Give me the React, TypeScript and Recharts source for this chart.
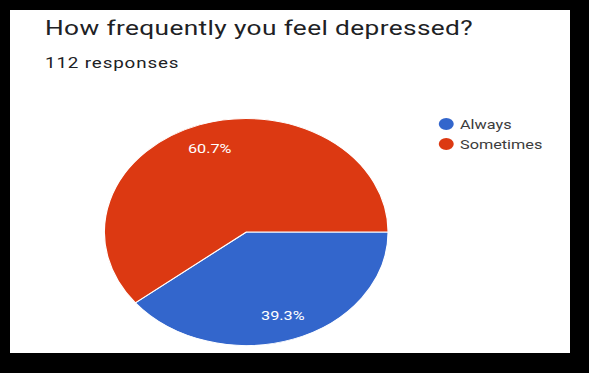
import { PieChart, Pie, Cell, Legend } from 'recharts';

const categories = ['Always', 'Sometimes'];
const responses = [44, 68];
const sliceColors = ['#3366cc', '#dc3912'];

const chartData = categories.map((name, i) => ({ name, value: responses[i] }));

const RADIAN = Math.PI / 180;

// percentage label placed inside each slice
// eslint-disable-next-line @typescript-eslint/no-explicit-any
function SliceLabel(props: any) {
  const { cx, cy, midAngle, outerRadius, percent } = props;
  const r = outerRadius * 0.78;
  const x = cx + r * Math.cos(-midAngle * RADIAN);
  const y = cy + r * Math.sin(-midAngle * RADIAN);
  return (
    <text
      x={x}
      y={y}
      fill="#ffffff"
      textAnchor="middle"
      dominantBaseline="central"
      fontSize={13}
      fontFamily="Roboto, Arial, sans-serif"
    >
      {(percent * 100).toFixed(1)}%
    </text>
  );
}

function LegendList() {
  return (
    <div style={{ fontFamily: 'Roboto, Arial, sans-serif', fontSize: 13, color: '#3c3c3c' }}>
      {categories.map((c, i) => (
        <div key={c} style={{ display: 'flex', alignItems: 'center', height: 20 }}>
          <span
            style={{
              width: 12,
              height: 12,
              borderRadius: '50%',
              background: sliceColors[i],
              marginRight: 5,
              display: 'inline-block',
            }}
          />
          <span>{c}</span>
        </div>
      ))}
    </div>
  );
}

export default function App() {
  return (
    <div style={{ position: 'absolute', left: 0, top: 0, width: 589, height: 373, background: '#000' }}>
      <div style={{ position: 'absolute', left: 10, top: 10, width: 560, height: 343, background: '#fff', overflow: 'hidden' }}>
        {/* screenshot is stretched horizontally, so draw narrow and widen */}
        <div style={{ position: 'relative', width: 448, height: 343, transform: 'scaleX(1.25)', transformOrigin: 'top left' }}>
          <div
            style={{
              position: 'absolute',
              left: 28,
              top: 8,
              fontFamily: 'Roboto, Arial, sans-serif',
              fontSize: 21,
              lineHeight: '21px',
              letterSpacing: 0.3,
              color: '#202124',
              whiteSpace: 'nowrap',
            }}
          >
            How frequently you feel depressed?
          </div>
          <div
            style={{
              position: 'absolute',
              left: 28,
              top: 46,
              fontFamily: 'Roboto, Arial, sans-serif',
              fontSize: 15,
              lineHeight: '15px',
              letterSpacing: 0.7,
              color: '#202124',
              whiteSpace: 'nowrap',
            }}
          >
            112 responses
          </div>
          <PieChart width={448} height={343} margin={{ top: 0, right: 0, bottom: 0, left: 0 }} style={{ position: 'absolute', left: 0, top: 0 }}>
            <Pie
              data={chartData}
              dataKey="value"
              nameKey="name"
              cx={189}
              cy={222}
              outerRadius={113.5}
              startAngle={0}
              endAngle={-360}
              stroke="#ffffff"
              strokeWidth={1}
              label={SliceLabel}
              labelLine={false}
              isAnimationActive={false}
            >
              {chartData.map((d, i) => (
                <Cell key={d.name} fill={sliceColors[i]} />
              ))}
            </Pie>
            <Legend
              layout="vertical"
              align="right"
              verticalAlign="top"
              content={() => <LegendList />}
              wrapperStyle={{ left: 343, top: 104, width: 100 }}
            />
          </PieChart>
        </div>
      </div>
    </div>
  );
}
